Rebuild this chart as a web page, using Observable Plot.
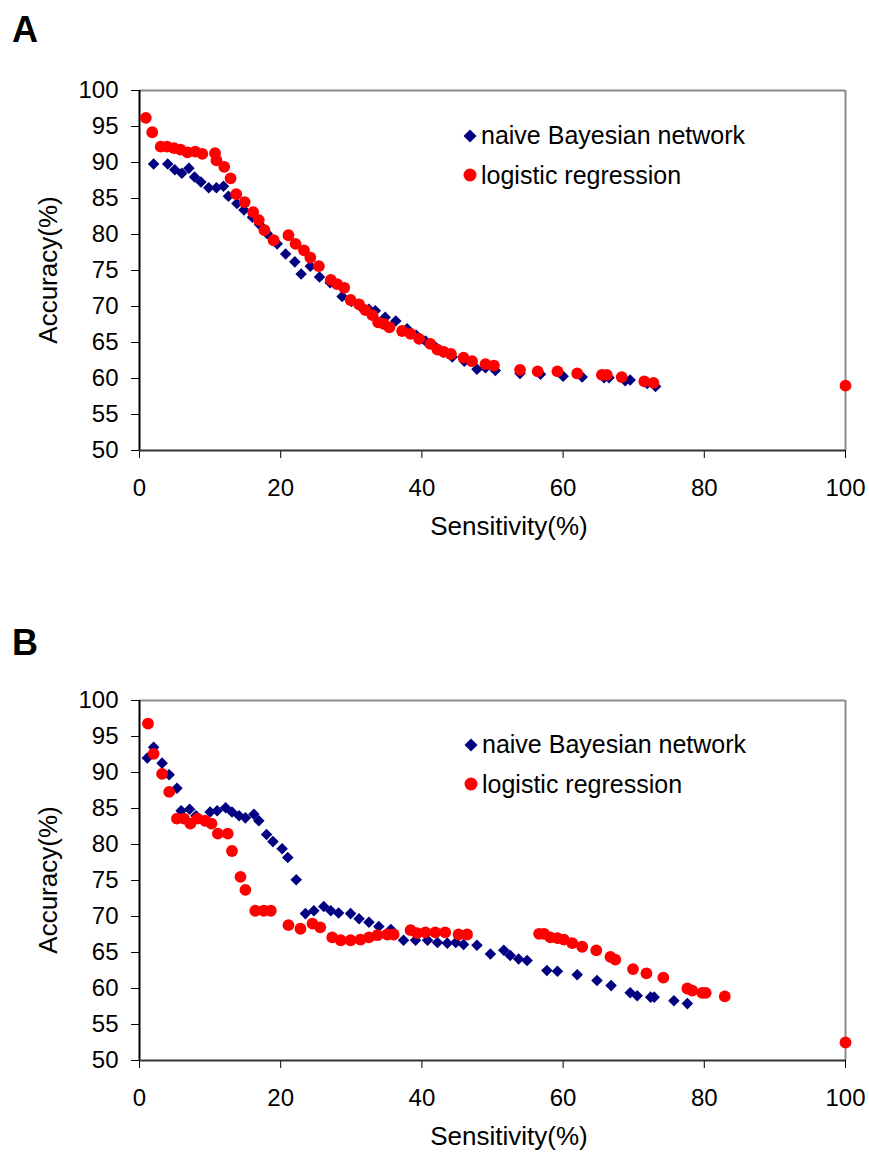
<!DOCTYPE html>
<html><head><meta charset="utf-8">
<script src="https://cdn.jsdelivr.net/npm/d3@7"></script>
<script src="https://cdn.jsdelivr.net/npm/@observablehq/plot@0.6"></script>
<style>
body{margin:0;background:#fff;}
#wrap{position:relative;width:869px;height:1155px;font-family:"Liberation Sans",Arial,sans-serif;color:#000;overflow:hidden;}
.abs{position:absolute;white-space:nowrap;}
.plabel{font-size:36px;font-weight:bold;line-height:36px;}
.xtitle{font-size:26px;line-height:26px;transform:translateX(-50%);}
.ytitle{font-size:26px;line-height:26px;transform:translate(-50%,-50%) rotate(-90deg);}
.leg{font-size:25px;line-height:25px;display:flex;align-items:center;}
.leg svg{margin-right:4px;}
</style></head><body><div id="wrap"></div>
<script>
// tick values
const xTicks = [0, 20, 40, 60, 80, 100];
const yTicks = [50, 55, 60, 65, 70, 75, 80, 85, 90, 95, 100];
const seriesNames = ["naive Bayesian network", "logistic regression"];
const panelLabels = ["A", "B"];

// Panel A - naive Bayesian network
const nbAx = [2, 4, 5, 6, 7, 7.8, 8.7, 9.8, 10.9, 11.9, 12.6, 13.8, 14.8, 16, 17, 18.1, 19.5, 20.7, 22, 22.9, 24.2, 25.5, 27, 28.7, 30, 31.3, 32.5, 33.4, 34.8, 36.3, 37.9, 39.2, 40.5, 42, 43, 44.3, 46, 47.8, 49, 50.4, 53.9, 56.8, 60, 62.7, 65.8, 66.5, 68.8, 69.5, 71.9, 73.1];
const nbAy = [89.8, 89.8, 89, 88.5, 89.2, 88, 87.3, 86.5, 86.5, 86.7, 85.3, 84.3, 83.4, 82.4, 81.4, 80.1, 78.7, 77.3, 76.2, 74.5, 75.6, 74.1, 73.3, 71.4, 70.7, 70.0, 69.6, 69.4, 68.5, 68.0, 66.9, 66.0, 65.2, 64.3, 63.7, 63.0, 62.4, 61.3, 61.5, 61.1, 60.7, 60.6, 60.3, 60.2, 60.1, 60.1, 59.7, 59.8, 59.3, 58.9];
// Panel A - logistic regression
const lrAx = [0.9, 1.8, 3.0, 3.9, 4.9, 5.8, 6.8, 7.9, 8.9, 10.7, 10.9, 12.0, 12.9, 13.7, 14.9, 16.1, 16.9, 17.7, 19.0, 21.1, 22.1, 23.3, 24.2, 25.4, 27.1, 28.0, 29.0, 29.9, 31.1, 32.0, 33.0, 33.8, 34.6, 35.4, 37.2, 38.4, 39.6, 41.2, 42.2, 43.1, 44.1, 45.9, 47.1, 49.0, 50.2, 53.9, 56.4, 59.2, 62.0, 65.5, 66.2, 68.3, 71.5, 72.8, 100];
const lrAy = [96.2, 94.2, 92.2, 92.2, 92.0, 91.8, 91.4, 91.5, 91.2, 91.3, 90.3, 89.4, 87.8, 85.6, 84.5, 83.1, 82.0, 80.6, 79.2, 79.9, 78.7, 77.8, 76.8, 75.6, 73.7, 73.1, 72.6, 70.9, 70.3, 69.5, 68.8, 67.8, 67.6, 67.1, 66.6, 66.2, 65.5, 64.8, 64.0, 63.7, 63.4, 62.9, 62.4, 62.0, 61.8, 61.2, 61.0, 61.0, 60.7, 60.5, 60.5, 60.2, 59.6, 59.4, 59.0];

// Panel B - naive Bayesian network
const nbBx = [1.1, 2.0, 3.2, 4.2, 5.3, 5.9, 7.1, 8.0, 10.0, 11.0, 12.2, 13.1, 14.1, 15.0, 16.2, 16.9, 18.0, 18.9, 20.2, 21.0, 22.2, 23.5, 24.7, 26.1, 27.1, 28.2, 29.9, 31.1, 32.5, 33.9, 35.6, 37.4, 39.1, 40.8, 42.2, 43.6, 44.8, 45.9, 47.8, 49.7, 51.6, 52.5, 53.7, 54.9, 57.7, 59.2, 62.0, 64.8, 66.8, 69.5, 70.5, 72.4, 72.9, 75.7, 77.6];
const nbBy = [92.0, 93.5, 91.3, 89.7, 87.8, 84.7, 84.9, 84.0, 84.5, 84.7, 85.1, 84.5, 84.0, 83.7, 84.2, 83.3, 81.4, 80.4, 79.4, 78.2, 75.1, 70.4, 70.8, 71.4, 70.8, 70.5, 70.4, 69.7, 69.2, 68.6, 68.2, 66.7, 66.7, 66.7, 66.4, 66.3, 66.4, 66.1, 66.0, 64.8, 65.3, 64.6, 64.1, 63.9, 62.5, 62.4, 61.9, 61.1, 60.4, 59.4, 59.0, 58.8, 58.8, 58.3, 57.9];
// Panel B - logistic regression
const lrBx = [1.2, 2.0, 3.2, 4.2, 5.3, 6.3, 7.2, 8.2, 9.3, 10.2, 11.1, 12.5, 13.1, 14.3, 15.0, 16.4, 17.6, 18.6, 21.1, 22.8, 24.5, 25.6, 27.3, 28.5, 29.9, 31.3, 32.5, 33.7, 35.1, 36.0, 38.4, 39.3, 40.5, 41.9, 43.3, 45.2, 46.4, 56.6, 57.3, 58.2, 59.2, 60.1, 61.3, 62.7, 64.7, 66.7, 67.4, 69.9, 71.8, 74.2, 77.6, 78.3, 79.7, 80.2, 82.9, 100];
const lrBy = [96.8, 92.6, 89.8, 87.3, 83.6, 83.6, 82.9, 83.6, 83.3, 82.9, 81.5, 81.5, 79.1, 75.5, 73.7, 70.8, 70.8, 70.8, 68.8, 68.3, 69.0, 68.5, 67.1, 66.7, 66.7, 66.8, 67.1, 67.4, 67.5, 67.5, 68.1, 67.7, 67.8, 67.8, 67.8, 67.5, 67.5, 67.6, 67.6, 67.1, 67.0, 66.8, 66.3, 65.8, 65.3, 64.4, 64.0, 62.7, 62.1, 61.5, 60.0, 59.7, 59.4, 59.4, 58.9, 52.5];

const NAVY = "#000080", RED = "#FF0000";
const wrap = document.getElementById("wrap");

function makePanel(nbX, nbY, lrX, lrY, height, marginBottom) {
  const nb = nbX.map((x, i) => ({x, y: nbY[i]}));
  const lr = lrX.map((x, i) => ({x, y: lrY[i]}));
  return Plot.plot({
    width: 869, height,
    marginLeft: 139, marginRight: 24, marginTop: 90, marginBottom,
    x: {domain: [0, 100]},
    y: {domain: [50, 100]},
    style: {fontSize: "24px", fontFamily: "'Liberation Sans', Arial, sans-serif", background: "transparent", overflow: "visible", color: "#000"},
    marks: [
      Plot.ruleY([100], {stroke: "#8c8c8c", strokeWidth: 2}),
      Plot.ruleX([100], {stroke: "#8c8c8c", strokeWidth: 2}),
      Plot.axisX({ticks: xTicks, tickSize: 8, tickPadding: 20, label: null, tickFormat: d => String(d)}),
      Plot.axisY({ticks: yTicks, tickSize: 8, tickPadding: 13, label: null, tickFormat: d => String(d)}),
      Plot.ruleX([0], {stroke: "#000", strokeWidth: 2}),
      Plot.ruleY([50], {stroke: "#333", strokeWidth: 2}),
      Plot.dot(nb, {x: "x", y: "y", symbol: "diamond2", r: 5.2, fill: NAVY, stroke: "none"}),
      Plot.dot(lr, {x: "x", y: "y", r: 5.9, fill: RED, stroke: "none"})
    ]
  });
}

function addDiv(cls, text, left, top) {
  const d = document.createElement("div");
  d.className = "abs " + cls;
  d.textContent = text;
  d.style.left = left + "px";
  d.style.top = top + "px";
  wrap.appendChild(d);
  return d;
}

function addLegend(left, top) {
  const items = [
    {name: seriesNames[0], svg: `<svg width="14" height="14"><polygon points="7,0.5 13.5,7 7,13.5 0.5,7" fill="${NAVY}"/></svg>`},
    {name: seriesNames[1], svg: `<svg width="14" height="14"><circle cx="7" cy="7" r="6.5" fill="${RED}"/></svg>`}
  ];
  items.forEach((it, i) => {
    const d = document.createElement("div");
    d.className = "abs leg";
    d.style.left = left + "px";
    d.style.top = (top + i * 39.5) + "px";
    d.innerHTML = it.svg + `<span>${it.name}</span>`;
    wrap.appendChild(d);
  });
}

const offsets = [0, 610];
const panels = [
  makePanel(nbAx, nbAy, lrAx, lrAy, 560, 110),
  makePanel(nbBx, nbBy, lrBx, lrBy, 545, 95)
];
panels.forEach((svg, i) => {
  svg.style.position = "absolute";
  svg.style.left = "0px";
  svg.style.top = offsets[i] + "px";
  wrap.appendChild(svg);
  const o = offsets[i];
  addDiv("plabel", panelLabels[i], 12, 12 + (i ? 613 : 0));
  addDiv("xtitle", "Sensitivity(%)", 509, 513 + o);
  addDiv("ytitle", "Accuracy(%)", 48, 270 + o);
});
addLegend(463, 123);
addLegend(464, 732);
</script></body></html>
